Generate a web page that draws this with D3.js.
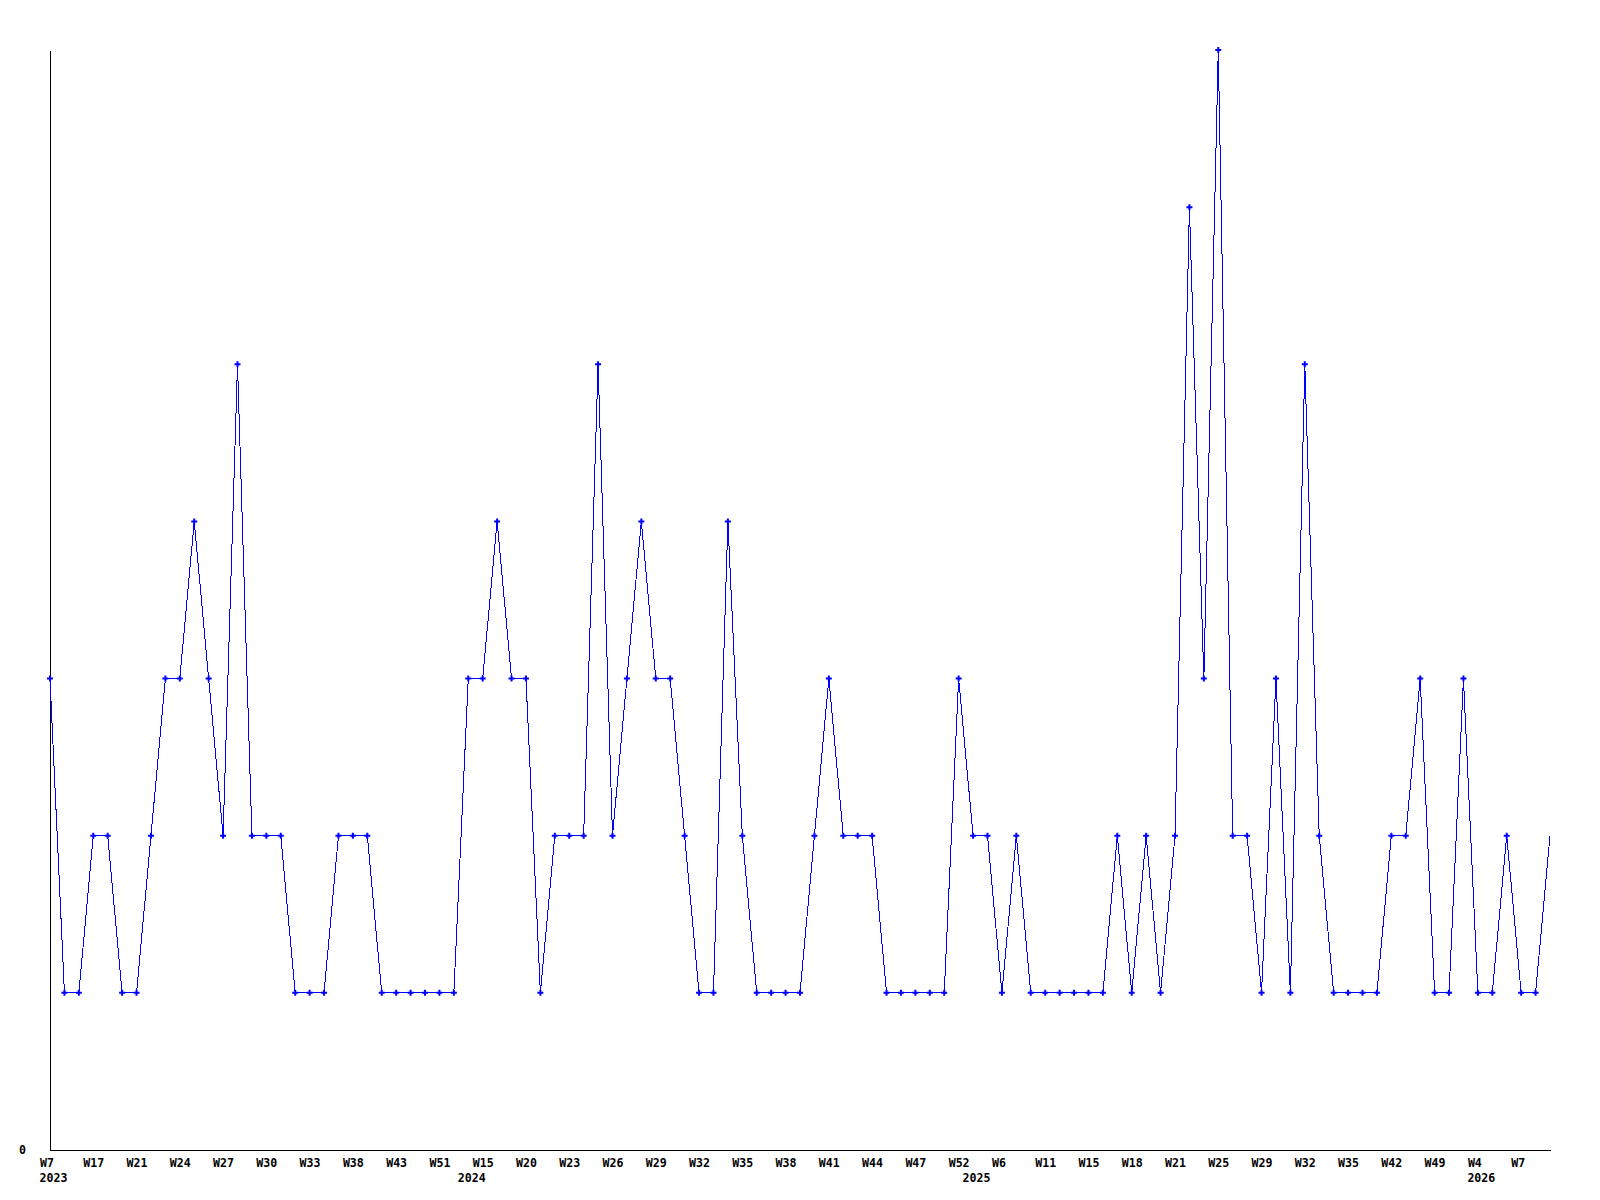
<!DOCTYPE html>
<html>
<head>
<meta charset="utf-8">
<script src="https://cdn.jsdelivr.net/npm/d3@7"></script>
<style>
  body { margin: 0; background: #fff; }
  .axis text { font-family: 'DejaVu Sans Mono', monospace; font-weight: bold; font-size: 11.6px; fill: #000; }
</style>
</head>
<body>
<div id="chart"></div>
<script>
'use strict';

// weekly counts, one per point (left to right)
var counts = [
  3, 1, 1, 2, 2, 1, 1, 2, 3, 3,
  4, 3, 2, 5, 2, 2, 2, 1, 1, 1,
  2, 2, 2, 1, 1, 1, 1, 1, 1, 3,
  3, 4, 3, 3, 1, 2, 2, 2, 5, 2,
  3, 4, 3, 3, 2, 1, 1, 4, 2, 1,
  1, 1, 1, 2, 3, 2, 2, 2, 1, 1,
  1, 1, 1, 3, 2, 2, 1, 2, 1, 1,
  1, 1, 1, 1, 2, 1, 2, 1, 2, 6,
  3, 7, 2, 2, 1, 3, 1, 5, 2, 1,
  1, 1, 1, 2, 2, 3, 1, 1, 3, 1,
  1, 2, 1, 1, 2
];

// week label shown on every 3rd point
var weekLabels = [
  'W7', 'W17', 'W21', 'W24', 'W27', 'W30', 'W33', 'W38', 'W43', 'W51',
  'W15', 'W20', 'W23', 'W26', 'W29', 'W32', 'W35', 'W38', 'W41', 'W44',
  'W47', 'W52', 'W6', 'W11', 'W15', 'W18', 'W21', 'W25', 'W29', 'W32',
  'W35', 'W42', 'W49', 'W4', 'W7'
];
var labelStep = 3;

// first point of each year
var years = ['2023', '2024', '2025', '2026'];
var yearStart = [0, 29, 64, 99];

var width = 1600, height = 1200;
var area = { left: 50, top: 50, right: 1550, bottom: 1150 };

var svg = d3.select('#chart')
  .append('svg')
    .attr('width', width)
    .attr('height', height);

var x = d3.scaleLinear()
  .domain([0, counts.length - 1])
  .range([area.left, area.right]);

var y = d3.scaleLinear()
  .domain([0, d3.max(counts)])
  .range([area.bottom, area.top]);

// x axis: plain baseline, week labels left-aligned a bit before each point
var tickIdx = weekLabels.map(function(d, i) { return i * labelStep; });

var xAxis = d3.axisBottom(x)
  .tickValues(tickIdx)
  .tickSize(0)
  .tickSizeOuter(0)
  .tickPadding(0)
  .tickFormat(function(d) { return weekLabels[d / labelStep]; });

var gx = svg.append('g')
  .attr('class', 'axis')
  .attr('transform', 'translate(0,' + area.bottom + ')')
  .call(xAxis);
gx.select('.domain').attr('stroke', '#000').attr('shape-rendering', 'crispEdges');
gx.selectAll('.tick text')
  .attr('text-anchor', 'start')
  .attr('dx', -10.5)
  .attr('dy', null)
  .attr('y', 17);

// year labels under the first point of each year
gx.selectAll('.year')
  .data(years)
  .enter().append('text')
    .attr('class', 'year')
    .attr('x', function(d, i) { return x(yearStart[i]) - 10.5; })
    .attr('y', 31.5)
    .attr('text-anchor', 'start')
    .text(function(d) { return d; });

// y axis: only the zero label
var yAxis = d3.axisLeft(y)
  .tickValues([0])
  .tickSize(0)
  .tickSizeOuter(0)
  .tickPadding(24)
  .tickFormat(d3.format('d'));

var gy = svg.append('g')
  .attr('class', 'axis')
  .attr('transform', 'translate(' + area.left + ',0)')
  .call(yAxis);
gy.select('.domain').attr('stroke', '#000').attr('shape-rendering', 'crispEdges');

// line
var lineGen = d3.line()
  .x(function(d, i) { return x(i); })
  .y(function(d) { return y(d); });

svg.append('path')
  .datum(counts)
  .attr('d', lineGen)
  .attr('fill', 'none')
  .attr('stroke', '#0000ff')
  .attr('stroke-width', 1)
  .attr('shape-rendering', 'crispEdges');

// point markers (the last point has none in the original)
var marker = d3.symbol().type(d3.symbolCross).size(20);

svg.append('g')
  .selectAll('path')
  .data(counts.slice(0, counts.length - 1))
  .enter().append('path')
    .attr('d', marker)
    .attr('transform', function(d, i) { return 'translate(' + x(i) + ',' + y(d) + ')'; })
    .attr('fill', '#0000ff');
</script>
</body>
</html>
